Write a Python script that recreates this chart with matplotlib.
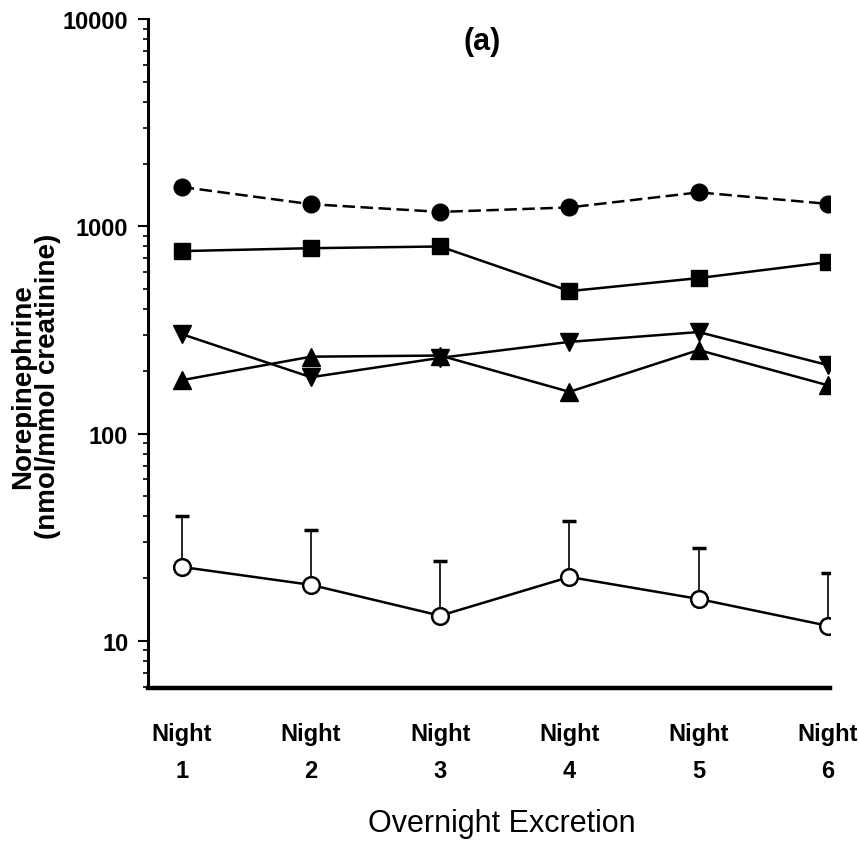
import matplotlib
matplotlib.use("Agg")
import matplotlib.pyplot as plt
from matplotlib.ticker import LogLocator, NullFormatter, FixedLocator

plt.rcParams['font.family'] = ['Liberation Sans Narrow', 'Liberation Sans', 'DejaVu Sans']

nights = [1, 2, 3, 4, 5, 6]
night_labels = ['Night\n1', 'Night\n2', 'Night\n3', 'Night\n4', 'Night\n5', 'Night\n6']

# filled circles, dashed line
circ_filled = [1550, 1280, 1175, 1235, 1460, 1285]
# filled squares
squares = [760, 785, 800, 487, 563, 673]
# down triangles
tri_down = [302, 187, 232, 277, 309, 214]
# up triangles
tri_up = [181, 235, 238, 159, 253, 171]
# open circles with upper error bars
circ_open = [22.7, 18.6, 13.2, 20.3, 15.9, 11.8]
circ_open_upper = [40, 34.3, 24.3, 37.9, 28, 21.3]

fig = plt.figure(figsize=(8.59, 8.45), dpi=100)
ax = fig.add_axes([0.172, 0.185, 0.794, 0.791])

ax.plot(nights, circ_filled, color='black', lw=1.8, ls=(0, (5, 2.2)),
        marker='o', ms=12, mfc='black', mec='black')
ax.plot(nights, squares, color='black', lw=1.8, marker='s', ms=12,
        mfc='black', mec='black')
ax.plot(nights, tri_down, color='black', lw=1.8, marker='v', ms=13,
        mfc='black', mec='black')
ax.plot(nights, tri_up, color='black', lw=1.8, marker='^', ms=13,
        mfc='black', mec='black')

yerr_up = [u - v for u, v in zip(circ_open_upper, circ_open)]
ax.errorbar(nights, circ_open, yerr=[[0] * 6, yerr_up], fmt='none',
            ecolor='black', elinewidth=1.2, capsize=5, capthick=2.5)
ax.plot(nights, circ_open, color='black', lw=1.8, marker='o', ms=12,
        mfc='white', mec='black', mew=1.8, zorder=5)

ax.set_yscale('log')
ax.set_ylim(5.93, 10000)
ax.set_xlim(0.737, 6.015)

ax.yaxis.set_major_locator(FixedLocator([10, 100, 1000, 10000]))
ax.set_yticklabels(['10', '100', '1000', '10000'])
ax.yaxis.set_minor_locator(LogLocator(base=10, subs=range(2, 10)))
ax.yaxis.set_minor_formatter(NullFormatter())
ax.tick_params(axis='y', which='major', length=7, width=1.5, labelsize=17, pad=7)
ax.tick_params(axis='y', which='minor', length=3.6, width=1.2)

ax.set_xticks(nights)
ax.set_xticklabels(night_labels, fontsize=17, fontweight='bold', linespacing=1.75)
ax.tick_params(axis='x', length=0, pad=25)
for lab in ax.get_yticklabels():
    lab.set_fontweight('bold')

ax.spines['top'].set_visible(False)
ax.spines['right'].set_visible(False)
ax.spines['left'].set_linewidth(2.2)
ax.spines['bottom'].set_linewidth(3.2)

fig.text(0.0413, 0.5426, 'Norepinephrine\n(nmol/mmol creatinine)', rotation=90,
         ha='center', va='center', fontsize=20, fontweight='bold',
         family=['Liberation Sans', 'DejaVu Sans'], linespacing=0.95)

ax.set_xlabel('Overnight Excretion', fontsize=22)
ax.xaxis.set_label_coords(0.519, -0.2137)
ax.xaxis.label.set_va('baseline')

ax.text(0.49, 0.967, '(a)', transform=ax.transAxes, ha='center', va='center',
        fontsize=22, fontweight='bold')

fig.savefig('out.png', dpi=100)
